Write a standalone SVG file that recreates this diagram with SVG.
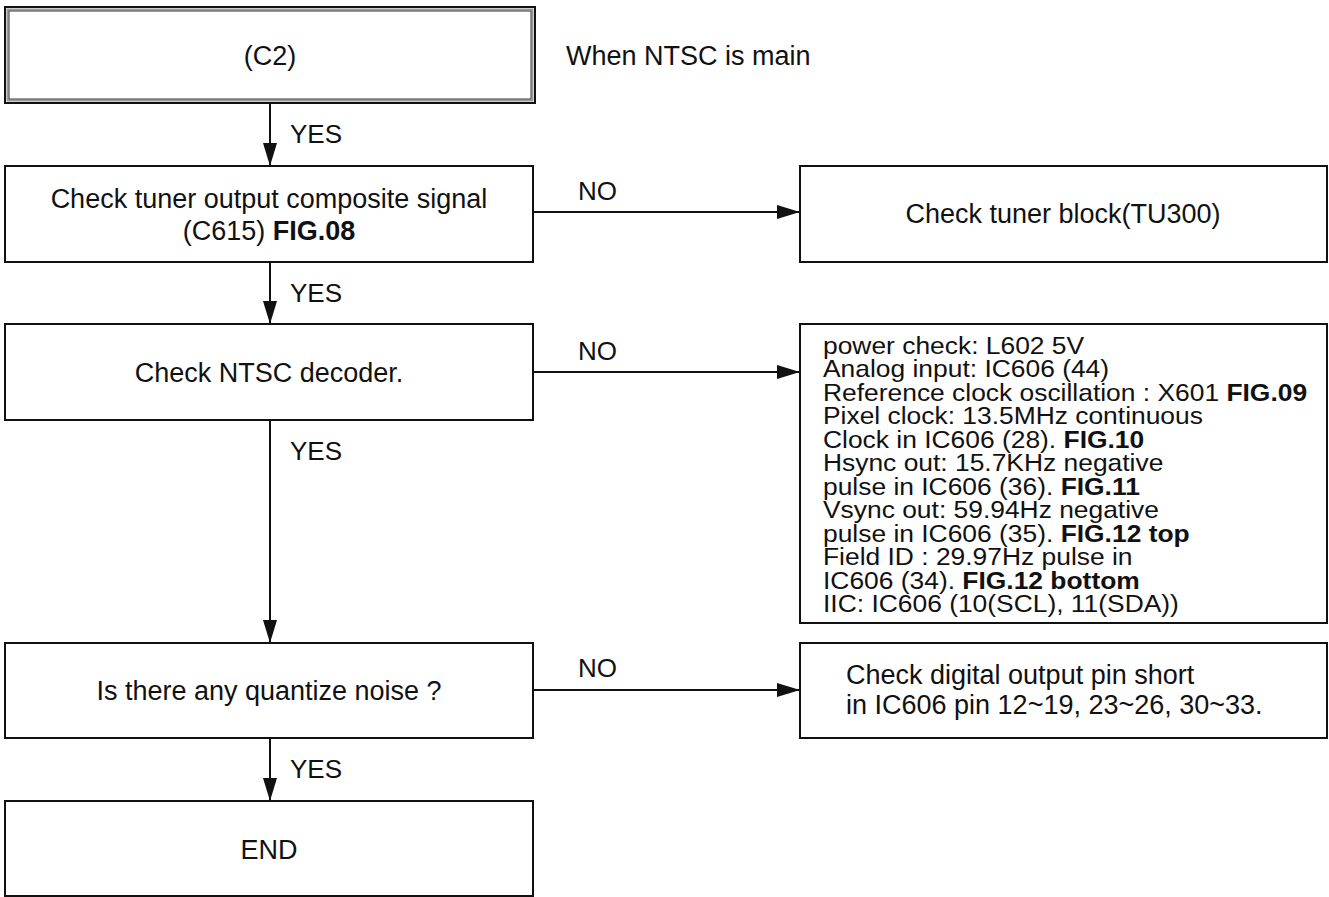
<svg xmlns="http://www.w3.org/2000/svg" width="1329" height="897" viewBox="0 0 1329 897">
<style>
text{font-family:"Liberation Sans",Arial,sans-serif;fill:#111;}
.t{font-size:27px;}
.l{font-size:26px;}
.c{text-anchor:middle;}
.b{font-weight:bold;}
.s{font-size:24px;}
.box{fill:#fff;stroke:#111;stroke-width:2;}
.ln{stroke:#111;stroke-width:2;fill:none;}
</style>
<defs>
<marker id="ah" markerUnits="userSpaceOnUse" markerWidth="24" markerHeight="16" refX="23" refY="7" orient="auto">
<path d="M0,0 L23,7 L0,14 Z" fill="#111"/>
</marker>
</defs>
<rect width="1329" height="897" fill="#fff"/>
<g id="n1">
<rect x="5" y="7" width="530" height="96" fill="#fff" stroke="#111" stroke-width="2"/>
<rect x="7.5" y="9.5" width="525" height="91" fill="none" stroke="#999" stroke-width="2"/>
<rect x="9" y="11" width="522" height="88" fill="none" stroke="#333" stroke-width="1"/>
<text class="t c" x="270" y="65">(C2)</text>
</g>
<g id="note">
<text class="t" x="566" y="65">When NTSC is main</text>
</g>
<g id="n2">
<rect class="box" x="5" y="166" width="528" height="96"/>
<text class="t c" x="269" y="208">Check tuner output composite signal</text>
<text class="t c" x="269" y="240">(C615) <tspan class="b">FIG.08</tspan></text>
</g>
<g id="n3">
<rect class="box" x="800" y="166" width="527" height="96"/>
<text class="t c" x="1063" y="223">Check tuner block(TU300)</text>
</g>
<g id="n4">
<rect class="box" x="5" y="324" width="528" height="96"/>
<text class="t c" x="269" y="382">Check NTSC decoder.</text>
</g>
<g id="n5">
<rect class="box" x="800" y="324" width="527" height="299"/>
<g transform="translate(823,0) scale(1.1,1)">
<text class="s" x="0" y="354">power check: L602 5V</text>
<text class="s" x="0" y="377.5">Analog input: IC606 (44)</text>
<text class="s" x="0" y="401">Reference clock oscillation : X601 <tspan class="b">FIG.09</tspan></text>
<text class="s" x="0" y="424.5">Pixel clock: 13.5MHz continuous</text>
<text class="s" x="0" y="448">Clock in IC606 (28). <tspan class="b">FIG.10</tspan></text>
<text class="s" x="0" y="471.5">Hsync out: 15.7KHz negative</text>
<text class="s" x="0" y="495">pulse in IC606 (36). <tspan class="b">FIG.11</tspan></text>
<text class="s" x="0" y="518.5">Vsync out: 59.94Hz negative</text>
<text class="s" x="0" y="542">pulse in IC606 (35). <tspan class="b">FIG.12 top</tspan></text>
<text class="s" x="0" y="565.5">Field ID : 29.97Hz pulse in</text>
<text class="s" x="0" y="589">IC606 (34). <tspan class="b">FIG.12 bottom</tspan></text>
<text class="s" x="0" y="612.5">IIC: IC606 (10(SCL), 11(SDA))</text>
</g>
</g>
<g id="n6">
<rect class="box" x="5" y="643" width="528" height="95"/>
<text class="t c" x="269" y="700">Is there any quantize noise ?</text>
</g>
<g id="n7">
<rect class="box" x="800" y="643" width="527" height="95"/>
<text class="t" x="846" y="684">Check digital output pin short</text>
<text class="t" x="846" y="714">in IC606 pin 12~19, 23~26, 30~33.</text>
</g>
<g id="n8">
<rect class="box" x="5" y="801" width="528" height="95"/>
<text class="t c" x="269" y="859">END</text>
</g>
<g id="connectors">
<line class="ln" x1="270" y1="103" x2="270" y2="166" marker-end="url(#ah)"/>
<text class="l" x="290" y="143">YES</text>
<line class="ln" x1="533" y1="212" x2="800" y2="212" marker-end="url(#ah)"/>
<text class="l" x="578" y="200">NO</text>
<line class="ln" x1="270" y1="262" x2="270" y2="324" marker-end="url(#ah)"/>
<text class="l" x="290" y="302">YES</text>
<line class="ln" x1="533" y1="372" x2="800" y2="372" marker-end="url(#ah)"/>
<text class="l" x="578" y="360">NO</text>
<line class="ln" x1="270" y1="420" x2="270" y2="643" marker-end="url(#ah)"/>
<text class="l" x="290" y="460">YES</text>
<line class="ln" x1="533" y1="690" x2="800" y2="690" marker-end="url(#ah)"/>
<text class="l" x="578" y="677">NO</text>
<line class="ln" x1="270" y1="738" x2="270" y2="801" marker-end="url(#ah)"/>
<text class="l" x="290" y="778">YES</text>
</g>
</svg>
